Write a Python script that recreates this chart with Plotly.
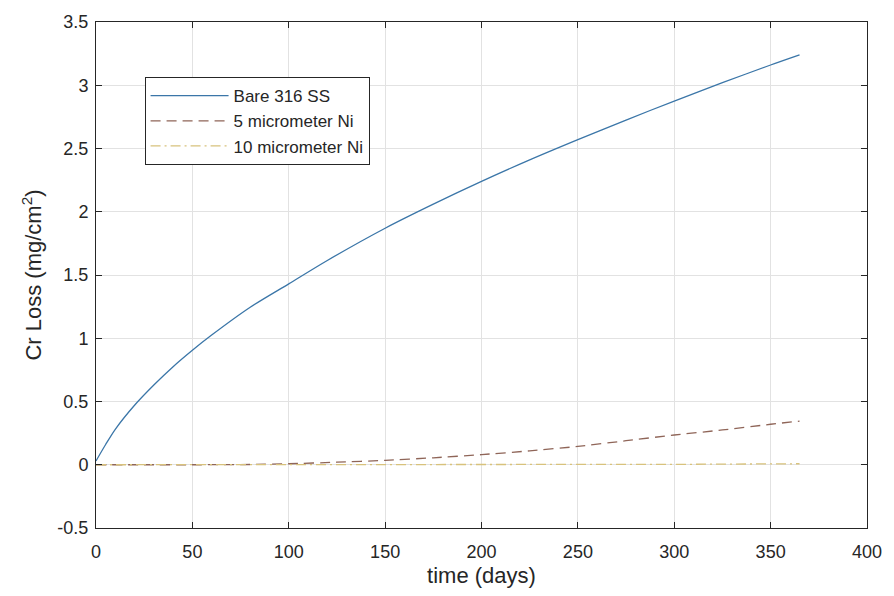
import plotly.graph_objects as go

# Bare 316 SS
t_bare = [0, 5, 10, 20, 30, 40, 50, 60, 80, 100, 120, 150, 175, 200, 225, 250, 275, 300, 325, 350, 365]
cr_bare = [0.03, 0.16, 0.28, 0.47, 0.63, 0.775, 0.905, 1.025, 1.245, 1.43, 1.615, 1.87, 2.06, 2.24, 2.41, 2.57, 2.725, 2.875, 3.02, 3.16, 3.24]

# 5 micrometer Ni
t_ni5 = [0, 25, 50, 80, 100, 125, 150, 175, 200, 225, 250, 275, 300, 325, 350, 365]
cr_ni5 = [0.0, 0.0, 0.0, 0.002, 0.008, 0.02, 0.035, 0.055, 0.08, 0.11, 0.145, 0.19, 0.235, 0.275, 0.32, 0.345]

# 10 micrometer Ni
t_ni10 = [0, 100, 200, 250, 300, 365]
cr_ni10 = [0.0, 0.0, 0.0, 0.001, 0.003, 0.008]

x_ticks = [0, 50, 100, 150, 200, 250, 300, 350, 400]
y_ticks = [-0.5, 0, 0.5, 1, 1.5, 2, 2.5, 3, 3.5]
y_ticklabels = ["-0.5", "0", "0.5", "1", "1.5", "2", "2.5", "3", "3.5"]

FONT = "Liberation Sans, Arial, sans-serif"
TXT = "#262626"

fig = go.Figure()
fig.add_trace(go.Scatter(x=t_bare, y=cr_bare, mode="lines", name="Bare 316 SS",
                         line=dict(color="#3b76a8", width=1.3, shape="spline", smoothing=0.8)))
fig.add_trace(go.Scatter(x=t_ni5, y=cr_ni5, mode="lines", name="5 micrometer Ni",
                         line=dict(color="#8f6558", width=1.3, dash="10px,6px", shape="spline", smoothing=0.6)))
fig.add_trace(go.Scatter(x=t_ni10, y=cr_ni10, mode="lines", name="10 micrometer Ni",
                         line=dict(color="#d8c27c", width=1.3, dash="10px,4px,2px,4px")))

axis_common = dict(
    showgrid=True, gridcolor="#e2e2e2", gridwidth=1,
    showline=True, linecolor=TXT, linewidth=1, mirror="ticks",
    ticks="inside", ticklen=6, tickcolor=TXT,
    zeroline=False,
    tickfont=dict(family=FONT, size=18, color=TXT),
)

fig.update_xaxes(range=[0, 400], tickvals=x_ticks, ticktext=[str(v) for v in x_ticks],
                 ticklabelstandoff=7,
                 title=dict(text="time (days)", font=dict(family=FONT, size=22, color=TXT), standoff=7),
                 **axis_common)
fig.update_yaxes(range=[-0.5, 3.5], tickvals=y_ticks, ticktext=y_ticklabels,
                 ticklabelstandoff=3,
                 title=dict(text="Cr Loss (mg/cm<sup>2</sup>)", font=dict(family=FONT, size=22, color=TXT), standoff=9),
                 **axis_common)

fig.update_layout(
    width=894, height=596,
    margin=dict(l=96, r=18, t=22, b=68),
    paper_bgcolor="white", plot_bgcolor="white",
    font=dict(family=FONT, color=TXT),
    legend=dict(x=0.063, y=0.891, xanchor="left", yanchor="top",
                bgcolor="white", bordercolor=TXT, borderwidth=1,
                font=dict(family=FONT, size=17, color=TXT),
                itemwidth=78, tracegroupgap=0),
    showlegend=True,
)

fig.write_html("out.html")
